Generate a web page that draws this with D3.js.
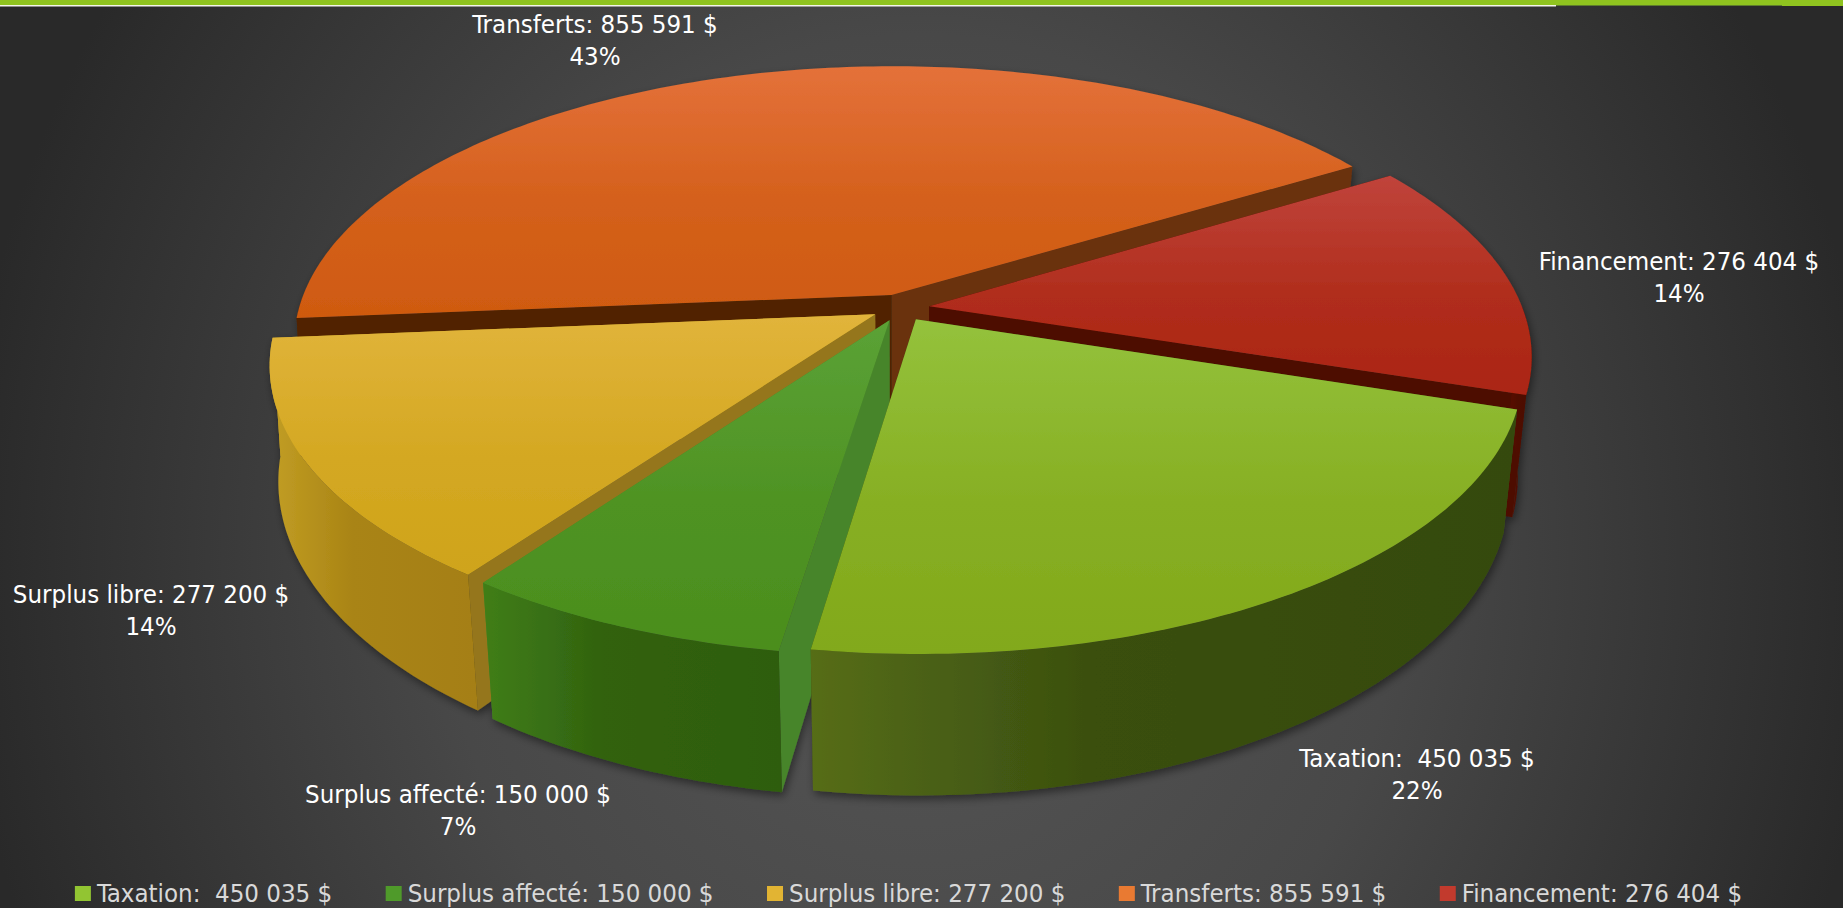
<!DOCTYPE html>
<html>
<head>
<meta charset="utf-8">
<script src="https://cdn.jsdelivr.net/npm/d3@7"></script>
<style>
html,body{margin:0;padding:0;background:#2a2a2a;overflow:hidden;}
text{font-family:"DejaVu Sans Condensed","DejaVu Sans",sans-serif;font-size:25.6px;white-space:pre;}
</style>
</head>
<body>
<script>
var categories = ["Taxation: ","Surplus affecté:","Surplus libre:","Transferts:","Financement:"];
var values = [450035,150000,277200,855591,276404];

// top face gradient, top then bottom
var topLight = ["#94c23c","#5ba236","#e1b43b","#e4713a","#c0443b"];
var topDark = ["#82a91b","#4b8e1d","#cfa41a","#cf5a10","#ab2512"];
// outer wall gradient, left to right
var wallLeft = ["#566d18","#407e18","#c29e24","#512403","#5a0f04"];
var wallRight = ["#354a0d","#2e5d0d","#a57f12","#512403","#4d0d00"];
// cut walls seen on the start and end side of a slice
var cutStart = ["#3c5010","#47852a","#95761b","#512403","#4d0d00"];
var cutEnd = ["#3c5010","#47852a","#c29e24","#6b300c","#4d0d00"];
var legendColors = ["#92c532","#4f9a2a","#e2b433","#e97a32","#c23a2d"];

// label anchor, centre of the first line and its baseline
var labelX = [1417,458,151,595,1679];
var labelY = [767,803,603,33,270];

var width = 1843, height = 908;
var cx = 900.5, cy = 307.7, rx = 593, ry = 272.5;
var persp = 0.173, thick = 116, explode = 0.049;
var startDeg = 108;

var total = d3.sum(values);
var money = d3.formatLocale({decimal:",",thousands:" ",grouping:[3],currency:["","$"]}).format(",d");
var pct = d3.format(".0%");

var data = d3.pie().sort(null)
	.startAngle(startDeg*Math.PI/180)
	.endAngle(startDeg*Math.PI/180+2*Math.PI)(values);

// ground plane to screen, z is 0 for the top face and 1 for the base
function project(x,y,z)
{
	var w = 1-persp*y;
	var sx = cx+rx*x/w, sy = cy+ry*y/w;
	if(z)
	{
		// the base pulls in less on the far left than elsewhere
		var pull = sx<cx ? 0.011+0.014*Math.max(y,0) : 0.022;
		sx = sx-(sx-cx)*pull;
		sy = sy+thick/w;
	}
	return [sx,sy];
}

function rimPoints(d,z)
{
	var mid = (d.startAngle+d.endAngle)/2;
	var ox = explode*Math.sin(mid), oy = -explode*Math.cos(mid);
	var n = Math.ceil((d.endAngle-d.startAngle)*180/Math.PI);
	return d3.range(n+1).map(function(i)
	{
		var a = d.startAngle+(d.endAngle-d.startAngle)*i/n;
		return {a:a,p:project(ox+Math.sin(a),oy-Math.cos(a),z)};
	});
}

function pts(list)
{
	return list.map(function(e){ return e.p; });
}

// only the part of the rim that faces the viewer gets a wall
function front(list)
{
	return pts(list.filter(function(e){ return Math.cos(e.a)<0; }));
}

function apex(d,z)
{
	var mid = (d.startAngle+d.endAngle)/2;
	return project(explode*Math.sin(mid),-explode*Math.cos(mid),z);
}

var line = d3.line();

var svg = d3.select("body").append("svg")
	.attr("width",width)
	.attr("height",height)
	.style("display","block");

var defs = svg.append("defs");

var bg = defs.append("radialGradient")
	.attr("id","bg")
	.attr("gradientUnits","userSpaceOnUse")
	.attr("cx",0).attr("cy",0).attr("r",1)
	.attr("gradientTransform","translate(920,560) scale(960,1050)");
bg.append("stop").attr("offset",0).attr("stop-color","#565656");
bg.append("stop").attr("offset",0.5).attr("stop-color","#484848");
bg.append("stop").attr("offset",1).attr("stop-color","#292929");

var blur = defs.append("filter")
	.attr("id","shadow")
	.attr("x","-5%").attr("y","-5%").attr("width","110%").attr("height","110%");
blur.append("feDropShadow")
	.attr("dx",2).attr("dy",4)
	.attr("stdDeviation",4)
	.attr("flood-color","#000")
	.attr("flood-opacity",0.45);

values.forEach(function(v,i)
{
	var t = defs.append("linearGradient").attr("id","top"+i)
		.attr("x1",0).attr("y1",0).attr("x2",0).attr("y2",1);
	t.append("stop").attr("offset",0).attr("stop-color",topLight[i]);
	t.append("stop").attr("offset",0.55).attr("stop-color",d3.interpolateRgb(topLight[i],topDark[i])(0.75));
	t.append("stop").attr("offset",1).attr("stop-color",topDark[i]);

	var r = defs.append("linearGradient").attr("id","wall"+i)
		.attr("x1",0).attr("y1",0).attr("x2",1).attr("y2",0);
	r.append("stop").attr("offset",0).attr("stop-color",wallLeft[i]);
	r.append("stop").attr("offset",0.4).attr("stop-color",d3.interpolateRgb(wallLeft[i],wallRight[i])(0.85));
	r.append("stop").attr("offset",1).attr("stop-color",wallRight[i]);
});

svg.append("rect")
	.attr("width",width)
	.attr("height",height)
	.attr("fill","url(#bg)");

// green strip along the top
svg.append("rect").attr("width",width).attr("height",5).attr("fill","#8fc31f");
svg.append("rect").attr("y",5).attr("width",1556).attr("height",1.5).attr("fill","#f4f4ea");
svg.append("rect").attr("x",1556).attr("y",5).attr("width",226).attr("height",1).attr("fill","#5e7d2c");
svg.append("rect").attr("x",1782).attr("y",5).attr("width",61).attr("height",1).attr("fill","#8fc31f");

var pie = svg.append("g").attr("filter","url(#shadow)");

// back slices first, so the nearer ones paint over them
var order = [3,4,2,1,0];

order.forEach(function(i)
{
	var d = data[i];
	var g = pie.append("g").attr("class","slice");
	var top = rimPoints(d,0), base = rimPoints(d,1);
	var a0 = apex(d,0), a1 = apex(d,1);
	var last = top.length-1;

	g.append("path")
		.attr("d",line([a0,top[last].p,base[last].p,a1])+"Z")
		.attr("fill",cutEnd[i]);
	g.append("path")
		.attr("d",line([a0,top[0].p,base[0].p,a1])+"Z")
		.attr("fill",cutStart[i]);
	g.append("path")
		.attr("d",line(front(top).concat(front(base).reverse()))+"Z")
		.attr("fill","url(#wall"+i+")");
	g.append("path")
		.attr("d",line([a0].concat(pts(top)))+"Z")
		.attr("fill","url(#top"+i+")");
});

// data labels
var labels = svg.selectAll("g.label").data(data).enter().append("g").classed("label",1)
	.attr("text-anchor","middle")
	.attr("fill","#ffffff");

labels.append("text")
	.attr("x",function(d,i){ return labelX[i]; })
	.attr("y",function(d,i){ return labelY[i]; })
	.text(function(d,i){ return categories[i]+" "+money(d.value)+" $"; });

labels.append("text")
	.attr("x",function(d,i){ return labelX[i]; })
	.attr("y",function(d,i){ return labelY[i]+31.5; })
	.text(function(d,i){ return pct(d.value/total); });

// legend, laid out one after the other from the measured text
var legend = svg.append("g").attr("class","legend");
var legendX = 0;
values.forEach(function(v,i)
{
	var item = legend.append("g").attr("transform","translate("+legendX+",0)");
	item.append("rect")
		.attr("y",-16)
		.attr("width",16)
		.attr("height",15)
		.attr("fill",legendColors[i]);
	var t = item.append("text")
		.attr("x",22)
		.attr("fill","#d9d9d9")
		.text(categories[i]+" "+money(v)+" $");
	legendX += 22+t.node().getComputedTextLength()+53.5;
});
legend.attr("transform","translate("+(908.5-(legendX-53.5)/2)+",902)");
</script>
</body>
</html>
